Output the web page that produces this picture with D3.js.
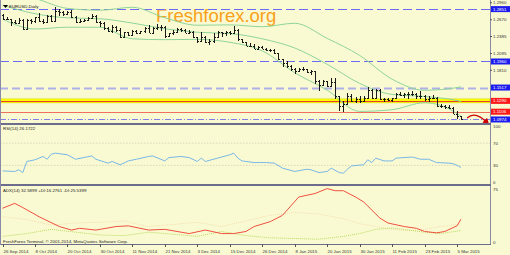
<!DOCTYPE html>
<html><head><meta charset="utf-8">
<script src="https://cdn.jsdelivr.net/npm/d3@7"></script>
<style>html,body{margin:0;padding:0;background:#fafad2;}svg{display:block;}</style>
</head><body><svg id="c" width="510" height="255"></svg>
<script>
// ---------------- DATA ----------------
const opens = [1.2750,1.2685,1.2685,1.2630,1.2623,1.2670,1.2516,1.2662,1.2650,1.2713,
1.2650,1.2627,1.2736,1.2654,1.2817,1.2807,1.2760,1.2800,1.2710,1.2640,
1.2650,1.2669,1.2700,1.2733,1.2630,1.2610,1.2525,1.2482,1.2547,1.2490,
1.2375,1.2454,1.2410,1.2475,1.2440,1.2475,1.2525,1.2450,1.2535,1.2545,
1.2545,1.2390,1.2440,1.2470,1.2505,1.2500,1.2450,1.2470,1.2380,1.2310,
1.2380,1.2290,1.2315,1.2380,1.2455,1.2440,1.2465,1.2440,1.2500,1.2335,
1.2290,1.2225,1.2230,1.2180,1.2200,1.2180,1.2150,1.2155,1.2100,1.2000,
1.1935,1.1890,1.1840,1.1790,1.1840,1.1835,1.1775,1.1790,1.1630,1.1565,
1.1625,1.1550,1.1610,1.1365,1.1205,1.1240,1.1380,1.1290,1.1320,1.1290,
1.1345,1.1475,1.1345,1.1480,1.1315,1.1320,1.1310,1.1335,1.1400,1.1385,
1.1405,1.1410,1.1405,1.1375,1.1380,1.1330,1.1340,1.1345,1.1200,1.1195,
1.1185,1.1175,1.1075,1.1030];
const highs = [1.2765,1.2710,1.2690,1.2660,1.2700,1.2680,1.2675,1.2680,1.2720,1.2790,
1.2680,1.2750,1.2745,1.2886,1.2845,1.2812,1.2820,1.2840,1.2730,1.2685,
1.2690,1.2710,1.2760,1.2750,1.2650,1.2640,1.2540,1.2575,1.2570,1.2535,
1.2470,1.2460,1.2495,1.2500,1.2485,1.2545,1.2575,1.2545,1.2600,1.2575,
1.2560,1.2450,1.2500,1.2530,1.2530,1.2520,1.2500,1.2480,1.2385,1.2455,
1.2390,1.2340,1.2440,1.2475,1.2460,1.2485,1.2485,1.2570,1.2515,1.2345,
1.2300,1.2275,1.2260,1.2225,1.2225,1.2195,1.2180,1.2170,1.2105,1.2005,
1.1970,1.1900,1.1845,1.1850,1.1865,1.1840,1.1810,1.1795,1.1640,1.1640,
1.1635,1.1680,1.1680,1.1370,1.1285,1.1420,1.1400,1.1355,1.1365,1.1365,
1.1534,1.1498,1.1490,1.1488,1.1345,1.1335,1.1345,1.1430,1.1445,1.1420,
1.1435,1.1450,1.1425,1.1450,1.1385,1.1365,1.1390,1.1360,1.1245,1.1225,
1.1215,1.1185,1.1110,1.1040];
const lows = [1.2671,1.2660,1.2571,1.2598,1.2605,1.2500,1.2505,1.2600,1.2620,1.2640,
1.2600,1.2615,1.2625,1.2624,1.2735,1.2740,1.2745,1.2705,1.2615,1.2615,
1.2640,1.2660,1.2690,1.2610,1.2545,1.2500,1.2455,1.2445,1.2470,1.2365,
1.2358,1.2395,1.2400,1.2420,1.2430,1.2440,1.2440,1.2445,1.2500,1.2475,
1.2360,1.2385,1.2410,1.2440,1.2470,1.2440,1.2425,1.2360,1.2280,1.2290,
1.2270,1.2247,1.2270,1.2360,1.2370,1.2400,1.2415,1.2435,1.2310,1.2270,
1.2220,1.2215,1.2165,1.2170,1.2170,1.2140,1.2130,1.2095,1.1985,1.1860,
1.1855,1.1800,1.1755,1.1780,1.1800,1.1765,1.1725,1.1570,1.1460,1.1550,
1.1530,1.1540,1.1315,1.1113,1.1098,1.1225,1.1270,1.1260,1.1260,1.1270,
1.1340,1.1330,1.1340,1.1310,1.1270,1.1280,1.1270,1.1320,1.1370,1.1345,
1.1320,1.1380,1.1330,1.1315,1.1290,1.1275,1.1320,1.1190,1.1175,1.1160,
1.1145,1.1060,1.0986,1.0965];
const closes = [1.2685,1.2685,1.2630,1.2623,1.2670,1.2516,1.2662,1.2650,1.2713,1.2650,
1.2627,1.2736,1.2654,1.2817,1.2807,1.2760,1.2800,1.2710,1.2640,1.2650,
1.2669,1.2700,1.2733,1.2630,1.2610,1.2525,1.2482,1.2547,1.2490,1.2375,
1.2454,1.2410,1.2475,1.2440,1.2475,1.2525,1.2450,1.2535,1.2545,1.2545,
1.2390,1.2440,1.2470,1.2505,1.2500,1.2450,1.2470,1.2380,1.2310,1.2380,
1.2290,1.2315,1.2380,1.2455,1.2440,1.2465,1.2440,1.2500,1.2335,1.2290,
1.2225,1.2230,1.2180,1.2200,1.2180,1.2150,1.2155,1.2100,1.2000,1.1935,
1.1890,1.1840,1.1790,1.1840,1.1835,1.1775,1.1790,1.1630,1.1565,1.1625,
1.1550,1.1610,1.1365,1.1205,1.1240,1.1380,1.1290,1.1320,1.1290,1.1345,
1.1475,1.1345,1.1480,1.1315,1.1320,1.1310,1.1335,1.1400,1.1385,1.1405,
1.1410,1.1405,1.1375,1.1380,1.1330,1.1340,1.1345,1.1200,1.1195,1.1185,
1.1175,1.1075,1.1030,1.0974];

// Bollinger band readings (bar index, value)
const bandIdx = [0,8,16,24,32,40,48,56,64,72,80,88,96,104,112,113];
const bandUpper = [1.3154,1.3033,1.2863,1.2832,1.2882,1.2703,1.2577,1.2583,1.2551,1.2610,1.2353,1.2064,1.1660,1.1471,1.1516,1.1529];
const bandMiddle = [1.2918,1.2773,1.2703,1.2687,1.2614,1.2517,1.2457,1.2435,1.2346,1.2190,1.1913,1.1588,1.1400,1.1365,1.1296,1.1279];
const bandLower = [1.2682,1.2513,1.2543,1.2542,1.2346,1.2331,1.2337,1.2287,1.2141,1.1770,1.1473,1.1112,1.1140,1.1259,1.1076,1.1029];

// RSI(14) readings
const rsiIdx = [0,3,4,5,6,8,10,11,12,13,16,18,22,23,26,27,29,31,33,36,37,40,41,44,46,48,49,50,53,56,57,58,59,62,65,67,69,72,75,76,78,80,81,83,84,85,86,89,90,91,92,94,96,97,101,103,105,107,110,111,112,113];
const rsiVal = [20,19,22,17,37,40,46,41,50,52,49,41,47,41,34,37,31,38,41,46,47,38,44,46,44,37,43,37,43,49,52,43,38,35,35,34,25,19,23,22,17,19,25,17,16,23,29,31,40,35,43,38,38,43,45,41,41,35,34,33,30,26.17];

// ADX(14) readings
const adxIdx = [0,3,5,9,14,17,19,23,28,31,36,40,46,50,54,57,60,62,66,69,73,77,80,82,84,87,89,93,95,99,102,104,107,109,112,113];
const adxVal = [48,55,49,36,22,17,19.5,17,22,23,17,18,12,17,12,12,15,22,29,38,64,69,76,73,73,64,57,34,27,22,19.5,15,13,15,23,32.59];
const pdiIdx = [0,6,12,18,24,30,36,42,48,54,60,66,72,78,84,88,92,96,100,104,108,113];
const pdiVal = [8,12,18,14,10,9,14,11,8,15,9,6,5,4,8,12,18,20,17,14,12,16.28];
const mdiIdx = [0,6,12,18,24,30,36,42,48,54,60,66,72,78,84,88,92,96,100,104,108,113];
const mdiVal = [36,32,24,27,28,30,22,25,28,22,30,38,42,40,33,26,22,18,16,18,22,25.54];

// Key price levels drawn on the chart
const levelValues = [1.2851, 1.1960, 1.1517, 1.1290, 1.1106, 1.0974];
const priceTicks = [1.2960, 1.2670, 1.2385, 1.2095, 1.1810];
const dateIdx = [0,8,16,24,32,40,48,56,64,72,80,88,96,104,112];
const dateLabels = ["26 Sep 2014","8 Oct 2014","20 Oct 2014","30 Oct 2014","11 Nov 2014","21 Nov 2014","3 Dec 2014","15 Dec 2014","26 Dec 2014","8 Jan 2015","20 Jan 2015","30 Jan 2015","11 Feb 2015","23 Feb 2015","5 Mar 2015"];
const rsiTicks = [100,70,30,0];
const rsiLevels = [70,30];
const adxTicks = [75,0];

// ---------------- LAYOUT ----------------
const svg = d3.select("#c");
const FONT = "'Liberation Sans', Arial, sans-serif";
const plotR = 490;
const main = {t:0, b:124}, rsiP = {t:125, b:184}, adxP = {t:186, b:244};

const x = d3.scaleLinear().domain([0,112]).range([2.5,457]);
const y = d3.scaleLinear().domain([1.0897,1.30059]).range([124,0]);
const yR = d3.scaleLinear().domain([0,100]).range([182,126.5]);
const yA = d3.scaleLinear().domain([0,75]).range([242,189.3]);

svg.append("rect").attr("width",510).attr("height",255).attr("fill","#fafad2");

const defs = svg.append("defs");
defs.append("clipPath").attr("id","cm").append("rect").attr("x",0).attr("y",main.t).attr("width",plotR).attr("height",main.b-main.t);
defs.append("clipPath").attr("id","cr").append("rect").attr("x",0).attr("y",rsiP.t).attr("width",plotR).attr("height",rsiP.b-rsiP.t);
defs.append("clipPath").attr("id","ca").append("rect").attr("x",0).attr("y",adxP.t).attr("width",plotR).attr("height",adxP.b-adxP.t);
defs.append("marker").attr("id","arr").attr("viewBox","0 0 10 10").attr("refX",6).attr("refY",5)
  .attr("markerWidth",5).attr("markerHeight",5).attr("orient","auto")
  .append("path").attr("d","M0,0L10,5L0,10z").attr("fill","#d00000");

const gm = svg.append("g").attr("clip-path","url(#cm)");

// watermark
gm.append("text").attr("x",156).attr("y",22).attr("font-family",FONT).attr("font-size",18.5)
  .attr("fill","#f9a11b").text("Freshforex.org");

// level lines
const lvStyle = [
  {c:"#6a6af4", w:1.2, d:"9,4", box:"#1c1cf0"},
  {c:"#6a6af4", w:1.2, d:"9,4", box:"#1c1cf0"},
  {c:"#b0b0e8", w:2, d:"8,4", box:"#1c1cf0"},
  {c:"#e8402a", w:1, d:null, box:"#ff1a1a"},
  {c:"#f07060", w:1, d:null, box:"#ff1a1a"},
  {c:"#8080e8", w:1, d:"6,2,1,2", box:"#1c1cf0"}
];
// yellow band at 1.1290
gm.append("rect").attr("x",0).attr("width",plotR).attr("y",y(levelValues[3])-2).attr("height",4)
  .attr("fill","#ffff00").attr("stroke","#d0d000").attr("stroke-width",0.5);
levelValues.forEach((v,i)=>{
  const s = lvStyle[i];
  gm.append("line").attr("x1",0).attr("x2",plotR).attr("y1",Math.round(y(v))+0.5).attr("y2",Math.round(y(v))+0.5)
    .attr("stroke",s.c).attr("stroke-width",s.w).attr("stroke-dasharray",s.d);
});

// bollinger bands
const bandLine = d3.line().x(d=>x(d[0])).y(d=>y(d[1])).curve(d3.curveMonotoneX);
[bandUpper,bandMiddle,bandLower].forEach(arr=>{
  gm.append("path").attr("d",bandLine(bandIdx.map((k,i)=>[k,arr[i]])))
    .attr("fill","none").attr("stroke","#8fd49a").attr("stroke-width",1);
});

// OHLC bars
const bars = gm.append("g").attr("stroke","#1a1a1a").attr("stroke-width",1).attr("shape-rendering","crispEdges");
closes.forEach((c,i)=>{
  const xx = Math.round(x(i))+0.5;
  bars.append("line").attr("x1",xx).attr("x2",xx).attr("y1",y(highs[i])).attr("y2",y(lows[i]));
  bars.append("line").attr("x1",xx-1.5).attr("x2",xx).attr("y1",Math.round(y(opens[i]))+0.5).attr("y2",Math.round(y(opens[i]))+0.5);
  bars.append("line").attr("x1",xx).attr("x2",xx+1.5).attr("y1",Math.round(y(c))+0.5).attr("y2",Math.round(y(c))+0.5);
});

// red forecast arrow (in data coordinates)
const arrowPts = [[114.5,1.1000],[116.5,1.1130],[119.5,1.0915]];
gm.append("path").attr("d",`M${x(arrowPts[0][0])},${y(arrowPts[0][1])}Q${x(arrowPts[1][0])},${y(arrowPts[1][1])} ${x(arrowPts[2][0])},${y(arrowPts[2][1])}`)
  .attr("fill","none").attr("stroke","#d00000").attr("stroke-width",1.3).attr("marker-end","url(#arr)");

// title
svg.append("path").attr("d","M3,5L8,5L5.5,8z").attr("fill","#000");
svg.append("text").attr("x",9).attr("y",8).attr("font-family",FONT).attr("font-size",4.4).attr("fill","#111").text("EURUSD,Daily");

// ---------- RSI ----------
const gr = svg.append("g").attr("clip-path","url(#cr)");
rsiLevels.forEach(v=>{
  gr.append("line").attr("x1",0).attr("x2",plotR).attr("y1",yR(v)).attr("y2",yR(v))
    .attr("stroke","#c8c8b0").attr("stroke-width",0.7).attr("stroke-dasharray","1.5,1.5");
});
const lineR = d3.line().x(d=>x(d[0])).y(d=>yR(d[1]));
gr.append("path").attr("d",lineR(rsiIdx.map((k,i)=>[k,rsiVal[i]]))).attr("fill","none").attr("stroke","#78b8e8").attr("stroke-width",1);
svg.append("text").attr("x",3).attr("y",130).attr("font-family",FONT).attr("font-size",4.4).attr("fill","#222").text("RSI(14) 26.1722");

// ---------- ADX ----------
const ga = svg.append("g").attr("clip-path","url(#ca)");
const lineA = d3.line().x(d=>x(d[0])).y(d=>yA(d[1]));
ga.append("path").attr("d",lineA(mdiIdx.map((k,i)=>[k,mdiVal[i]]))).attr("fill","none").attr("stroke","#f2d6a8").attr("stroke-width",0.8).attr("stroke-dasharray","1,1");
ga.append("path").attr("d",lineA(pdiIdx.map((k,i)=>[k,pdiVal[i]]))).attr("fill","none").attr("stroke","#a8d040").attr("stroke-width",0.8).attr("stroke-dasharray","1,1");
ga.append("path").attr("d",lineA(adxIdx.map((k,i)=>[k,adxVal[i]]))).attr("fill","none").attr("stroke","#f05040").attr("stroke-width",1);
svg.append("text").attr("x",3).attr("y",192).attr("font-family",FONT).attr("font-size",4.4).attr("fill","#222").text("ADX(14) 32.5899 +DI:16.2761 -DI:25.5399");
svg.append("text").attr("x",3).attr("y",242.5).attr("font-family",FONT).attr("font-size",4.4).attr("fill","#222").text("FreshForex Terminal, \u00a9 2001-2014, MetaQuotes Software Corp.");

// ---------- frames ----------
const frame = svg.append("g").attr("fill","none").attr("shape-rendering","crispEdges");
frame.append("line").attr("x1",plotR+0.5).attr("x2",plotR+0.5).attr("y1",0).attr("y2",245).attr("stroke","#8a8aa8").attr("stroke-width",1);
[[124,2],[185,2],[244.5,1]].forEach(s=>{
  frame.append("line").attr("x1",0).attr("x2",plotR+1).attr("y1",s[0]).attr("y2",s[0]).attr("stroke","#6c6c8c").attr("stroke-width",s[1]);
});
frame.append("line").attr("x1",0.5).attr("x2",0.5).attr("y1",0).attr("y2",245).attr("stroke","#8a8aa8");

// ---------- price axis ----------
const ax = svg.append("g").attr("font-family",FONT).attr("font-size",4.4);
priceTicks.forEach(v=>{
  ax.append("line").attr("x1",plotR).attr("x2",plotR+2).attr("y1",y(v)).attr("y2",y(v)).attr("stroke","#555");
  ax.append("text").attr("x",plotR+3).attr("y",y(v)+1.6).attr("fill","#333").text(v.toFixed(4));
});
levelValues.forEach((v,i)=>{
  ax.append("rect").attr("x",plotR+1).attr("y",y(v)-3).attr("width",19).attr("height",6).attr("fill",lvStyle[i].box);
  ax.append("text").attr("x",plotR+3).attr("y",y(v)+1.6).attr("fill","#fff").text(v.toFixed(4));
});
rsiTicks.forEach(v=>{
  ax.append("text").attr("x",plotR+3).attr("y",yR(v)+1.6).attr("fill","#333").text(v);
});
adxTicks.forEach(v=>{
  ax.append("text").attr("x",plotR+3).attr("y",yA(v)+1.6).attr("fill","#333").text(v);
});

// ---------- date axis ----------
dateIdx.forEach((k,i)=>{
  const xx = Math.round(x(k))+0.5;
  ax.append("line").attr("x1",xx).attr("x2",xx).attr("y1",244).attr("y2",247).attr("stroke","#555");
  ax.append("text").attr("x",xx).attr("y",252.5).attr("fill","#333").text(dateLabels[i]);
});
</script></body></html>
